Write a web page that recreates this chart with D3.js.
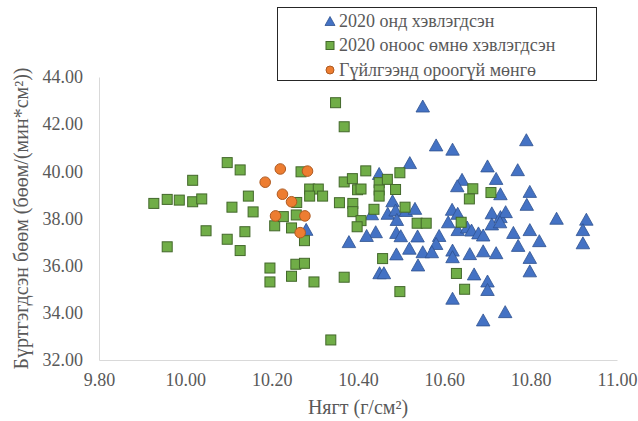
<!DOCTYPE html>
<html>
<head>
<meta charset="utf-8">
<script src="https://cdn.jsdelivr.net/npm/d3@7"></script>
<style>
  body { margin: 0; background: #fff; }
</style>
</head>
<body>
<div id="chart"></div>
<script>
  // series names as shown in the legend
  const seriesNames = ["2020 онд хэвлэгдсэн", "2020 оноос өмнө хэвлэгдсэн", "Гүйлгээнд ороогүй мөнгө"];

  // [density, particles] pairs
  const printed2020 = [
    [10.550, 42.77], [10.581, 41.12], [10.619, 40.94], [10.790, 41.34], [10.520, 40.37],
    [10.700, 40.23], [10.770, 40.07], [10.449, 39.91], [10.641, 39.66], [10.720, 39.70],
    [10.630, 39.39], [10.730, 39.05], [10.798, 39.15], [10.791, 38.60], [10.480, 38.75],
    [10.469, 38.22], [10.487, 38.36], [10.490, 37.96], [10.511, 38.34], [10.532, 38.43],
    [10.432, 38.20], [10.441, 37.44], [10.420, 37.28], [10.379, 37.02], [10.489, 37.41],
    [10.499, 37.27], [10.538, 37.26], [10.519, 36.74], [10.489, 36.50], [10.550, 36.59],
    [10.539, 36.03], [10.450, 35.70], [10.460, 35.70], [10.280, 37.54], [10.618, 38.39],
    [10.631, 38.22], [10.609, 37.86], [10.631, 37.53], [10.653, 37.64], [10.663, 37.51],
    [10.679, 37.39], [10.690, 37.30], [10.710, 38.24], [10.730, 38.08], [10.742, 38.29],
    [10.710, 37.77], [10.729, 37.86], [10.760, 37.41], [10.798, 37.53], [10.820, 37.06],
    [10.771, 36.86], [10.588, 37.28], [10.581, 36.94], [10.571, 36.59], [10.619, 36.66],
    [10.619, 36.38], [10.659, 36.51], [10.690, 36.63], [10.720, 36.55], [10.798, 36.35],
    [10.798, 35.78], [10.669, 35.65], [10.700, 35.35], [10.700, 34.99], [10.619, 34.62],
    [10.741, 34.05], [10.690, 33.70], [10.860, 38.01], [10.929, 37.97], [10.921, 37.53],
    [10.921, 36.97]
  ];

  const printedBefore2020 = [
    [9.927, 38.64], [9.958, 38.81], [9.986, 38.78], [10.017, 38.71], [10.038, 38.83],
    [10.017, 39.62], [10.097, 40.37], [10.127, 40.06], [10.146, 38.95], [10.108, 38.48],
    [10.157, 38.28], [10.048, 37.48], [10.097, 37.12], [10.138, 37.44], [9.958, 36.80],
    [10.127, 36.64], [10.207, 37.69], [10.227, 38.08], [10.246, 37.60], [10.257, 38.15],
    [10.276, 37.06], [10.196, 35.90], [10.196, 35.31], [10.246, 35.55], [10.256, 36.06],
    [10.276, 36.10], [10.298, 35.31], [10.258, 38.68], [10.268, 39.98], [10.288, 39.25],
    [10.308, 39.25], [10.288, 38.95], [10.318, 38.95], [10.348, 42.91], [10.368, 41.89],
    [10.418, 40.02], [10.497, 39.94], [10.368, 39.55], [10.387, 39.69], [10.399, 39.22],
    [10.407, 39.25], [10.449, 39.52], [10.468, 39.66], [10.449, 39.21], [10.449, 38.95],
    [10.487, 39.23], [10.357, 38.67], [10.388, 38.64], [10.388, 38.29], [10.437, 38.39],
    [10.407, 37.91], [10.398, 37.65], [10.509, 38.48], [10.537, 37.80], [10.558, 37.80],
    [10.457, 36.30], [10.368, 35.51], [10.497, 34.90], [10.337, 32.85], [10.666, 39.26],
    [10.708, 39.10], [10.658, 38.83], [10.639, 37.84], [10.628, 35.67], [10.647, 35.00]
  ];

  const uncirculated = [
    [10.185, 39.54], [10.220, 40.10], [10.283, 40.01], [10.225, 39.03],
    [10.246, 38.71], [10.209, 38.11], [10.277, 38.11], [10.266, 37.40]
  ];

  const xTicks = [9.8, 10.0, 10.2, 10.4, 10.6, 10.8, 11.0];
  const yTicks = [32, 34, 36, 38, 40, 42, 44];

  const width = 638, height = 421;
  const margin = { top: 77, right: 21, bottom: 61, left: 99 };
  const font = "'Liberation Serif', 'Times New Roman', serif";
  const textColor = "#595959";

  const x = d3.scaleLinear().domain([9.8, 11.0]).range([margin.left, width - margin.right]);
  const y = d3.scaleLinear().domain([32, 44]).range([height - margin.bottom, margin.top]);

  // triangle centred on its bounding box, like the spreadsheet markers
  const triangle = (w, h) => `M0,${-h / 2}L${w / 2},${h / 2}L${-w / 2},${h / 2}Z`;

  const svg = d3.select("#chart").append("svg")
      .attr("width", width)
      .attr("height", height)
      .attr("font-family", font);

  // axes: light lines, no ticks
  svg.append("g")
      .attr("transform", `translate(0,${y(32)})`)
      .call(d3.axisBottom(x).tickValues(xTicks).tickSize(0).tickPadding(13).tickFormat(d3.format(".2f")))
      .call(g => g.select(".domain").attr("stroke", "#d9d9d9"))
      .call(g => g.selectAll("text").attr("font-size", 18).attr("font-family", font).attr("fill", textColor));

  svg.append("g")
      .attr("transform", `translate(${x(9.8)},0)`)
      .call(d3.axisLeft(y).tickValues(yTicks).tickSize(0).tickPadding(16).tickFormat(d3.format(".2f")))
      .call(g => g.select(".domain").attr("stroke", "#d9d9d9"))
      .call(g => g.selectAll("text").attr("font-size", 18).attr("font-family", font).attr("fill", textColor));

  // axis titles
  svg.append("text")
      .attr("x", (x(9.8) + x(11.0)) / 2)
      .attr("y", 414)
      .attr("text-anchor", "middle")
      .attr("font-size", 20)
      .attr("fill", textColor)
      .text("Нягт (г/см²)");

  svg.append("text")
      .attr("transform", `translate(28,${(y(32) + y(44)) / 2}) rotate(-90)`)
      .attr("text-anchor", "middle")
      .attr("font-size", 20)
      .attr("fill", textColor)
      .text("Бүртгэгдсэн бөөм (бөөм/(мин*см²))");

  // series 1: triangles
  svg.append("g")
    .selectAll("path")
    .data(printed2020)
    .join("path")
      .attr("transform", d => `translate(${x(d[0])},${y(d[1])})`)
      .attr("d", triangle(13.5, 12))
      .attr("fill", "#4472c4")
      .attr("stroke", "#2f528f")
      .attr("stroke-width", 0.8);

  // series 2: squares
  svg.append("g")
    .selectAll("rect")
    .data(printedBefore2020)
    .join("rect")
      .attr("x", d => x(d[0]) - 5)
      .attr("y", d => y(d[1]) - 5)
      .attr("width", 10)
      .attr("height", 10)
      .attr("fill", "#70ad47")
      .attr("stroke", "#43682b")
      .attr("stroke-width", 1);

  // series 3: circles
  svg.append("g")
    .selectAll("circle")
    .data(uncirculated)
    .join("circle")
      .attr("cx", d => x(d[0]))
      .attr("cy", d => y(d[1]))
      .attr("r", 5.3)
      .attr("fill", "#ed7d31")
      .attr("stroke", "#ae5a21")
      .attr("stroke-width", 1);

  // legend
  const legend = svg.append("g");
  legend.append("rect")
      .attr("x", 277.5)
      .attr("y", 7.5)
      .attr("width", 319)
      .attr("height", 73)
      .attr("fill", "#fff")
      .attr("stroke", "#262626")
      .attr("stroke-width", 1);

  const rows = legend.selectAll("g")
    .data(seriesNames)
    .join("g")
      .attr("transform", (d, i) => `translate(330,${21 + i * 24.5})`);

  rows.each(function(d, i) {
    const g = d3.select(this);
    if (i === 0) g.append("path").attr("d", triangle(10, 9)).attr("fill", "#4472c4").attr("stroke", "#2f528f").attr("stroke-width", 0.8);
    if (i === 1) g.append("rect").attr("x", -4).attr("y", -4).attr("width", 8).attr("height", 8)
        .attr("fill", "#70ad47").attr("stroke", "#43682b");
    if (i === 2) g.append("circle").attr("r", 4).attr("fill", "#ed7d31").attr("stroke", "#ae5a21");
  });

  rows.append("text")
      .attr("x", 9)
      .attr("dy", "0.33em")
      .attr("font-size", 18)
      .attr("fill", textColor)
      .text(d => d);
</script>
</body>
</html>
